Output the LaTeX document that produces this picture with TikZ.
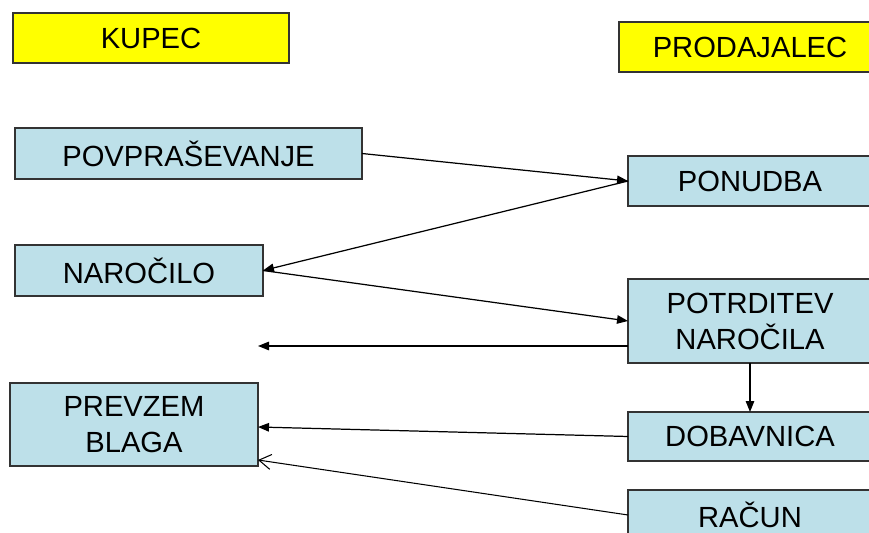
\documentclass[tikz,border=0pt]{standalone}
\usepackage{fontspec}
\setmainfont{Liberation Sans}
\usetikzlibrary{positioning, arrows.meta}
\definecolor{mYellow}{HTML}{FFFF00}
\definecolor{mBlue}{HTML}{BDE0E9}
\definecolor{mLine}{HTML}{333333}

\begin{document}
\begin{tikzpicture}[
  x=0.02cm, y=-0.02cm,
  side/.style={draw=mLine, fill=mYellow, line width=0.7pt, inner sep=0pt, outer sep=0pt,
               font=\fontsize{16.6}{20.5}\selectfont, minimum height=1cm},
  doc/.style={draw=mLine, fill=mBlue, line width=0.7pt, inner sep=0pt, outer sep=0pt,
              font=\fontsize{16.6}{20.5}\selectfont, align=center},
  flow/.style={-{Triangle[length=0.22cm, width=0.17cm]}, line width=0.7pt},
  back/.style={-{Straight Barb[length=0.24cm, width=0.3cm]}, line width=0.6pt},
]
  \useasboundingbox (0,0) rectangle (869,533);
  \clip (0,0) rectangle (869,533);

  % the two sides
  \node[side, minimum width=5.52cm] (kupec) at (151,38) {KUPEC};
  \node[side, minimum width=5.24cm] (prodajalec) at (750,47) {PRODAJALEC};

  % documents
  \node[doc, minimum width=6.94cm, minimum height=1.02cm] (povprasevanje) at (188.5,153.5) {POVPRAŠEVANJE};
  \node[doc, minimum width=4.88cm, minimum height=1cm] (ponudba) at (750,181) {PONUDBA};
  \node[doc, minimum width=4.96cm, minimum height=1.02cm] (narocilo) at (139,270.5) {NAROČILO};
  \node[doc, minimum width=4.88cm, minimum height=1.68cm] (potrditev) at (750,321) {POTRDITEV\\NAROČILA};
  \node[doc, minimum width=4.96cm, minimum height=1.66cm] (prevzem) at (134,424.5) {PREVZEM\\BLAGA};
  \node[doc, minimum width=4.88cm, minimum height=0.98cm] (dobavnica) at (750,436.5) {DOBAVNICA};
  \node[doc, minimum width=4.88cm, minimum height=1cm] (racun) at (750,515) {RAČUN};
  \coordinate (potrditevend) at (258,346);

  \draw[flow] (povprasevanje.east) -- (ponudba.west);
  \draw[flow] (ponudba.west) -- (narocilo.east);
  \draw[flow] (narocilo.east) -- (potrditev.west);
  \draw[flow] (potrditev.west |- potrditevend) -- (potrditevend);
  \draw[flow] (potrditev.south) -- (dobavnica.north);
  \draw[flow] (dobavnica.west) -- ([yshift=-0.05cm]prevzem.east);
  \draw[back] (racun.west) -- ([yshift=0.12cm]prevzem.south east);
\end{tikzpicture}
\end{document}
